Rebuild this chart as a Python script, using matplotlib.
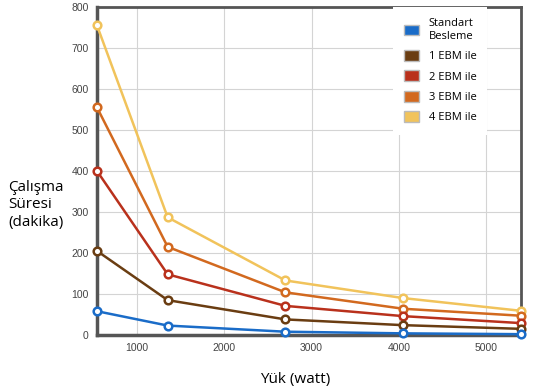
import matplotlib
matplotlib.use("Agg")
import matplotlib.pyplot as plt
from matplotlib.patches import Patch

loads = [540, 1350, 2700, 4050, 5400]
series_names = ["Standart\nBesleme", "1 EBM ile", "2 EBM ile", "3 EBM ile", "4 EBM ile"]
standart = [58, 23, 8, 4, 2]
ebm1 = [205, 85, 38, 24, 15]
ebm2 = [400, 148, 71, 46, 29]
ebm3 = [555, 215, 104, 64, 47]
ebm4 = [755, 287, 133, 90, 59]
x_ticks = [1000, 2000, 3000, 4000, 5000]
y_ticks = [0, 100, 200, 300, 400, 500, 600, 700, 800]

colors = ["#1a6cc8", "#6a3d12", "#b9311c", "#d2691f", "#f1c35b"]
all_series = [standart, ebm1, ebm2, ebm3, ebm4]

plt.rcParams["font.family"] = ["Liberation Sans", "DejaVu Sans"]

fig = plt.figure(figsize=(5.45, 3.88), dpi=100)
ax = fig.add_axes([97/545, 1-335/388, (521-97)/545, (335-7)/388])

for vals, c in zip(all_series[::-1], colors[::-1]):
    ax.plot(loads, vals, color=c, lw=1.8, marker="o", ms=5.5, mfc="white",
            mec=c, mew=1.8, zorder=3, clip_on=False)

ax.set_xlim(540, 5400)
ax.set_ylim(0, 800)
ax.set_xticks(x_ticks)
ax.set_yticks(y_ticks)
ax.grid(True, color="#d4d4d4", lw=0.8)
ax.set_axisbelow(True)
ax.tick_params(length=0, labelsize=7.5, labelcolor="#444444", pad=6)
for s in ["left", "bottom"]:
    ax.spines[s].set_linewidth(2.5)
    ax.spines[s].set_color("#555555")
for s in ["top", "right"]:
    ax.spines[s].set_linewidth(2.0)
    ax.spines[s].set_color("#555555")

handles = [Patch(facecolor=c, edgecolor="#bbbbbb", lw=1) for c in colors]
leg = ax.legend(handles, series_names, loc="upper left",
                bbox_to_anchor=((393 - 97) / 424, 1.0),
                prop={"family": "Open Sans", "size": 8},
                handlelength=1.3, handleheight=1.1, handletextpad=0.9,
                labelspacing=0.75, borderpad=1.0, frameon=True, fancybox=False,
                borderaxespad=0.0)
leg.get_frame().set_edgecolor("none")
leg.get_frame().set_facecolor("white")
leg.get_frame().set_alpha(1.0)

fig.text(8/545, 1-205/388, "Çalışma\nSüresi\n(dakika)", fontsize=11,
         family="Open Sans", ha="left", va="center", linespacing=1.25)
fig.text(295/545, 1-380/388, "Yük (watt)", fontsize=11, family="Open Sans",
         ha="center", va="center")

fig.savefig("out.png", dpi=100)
